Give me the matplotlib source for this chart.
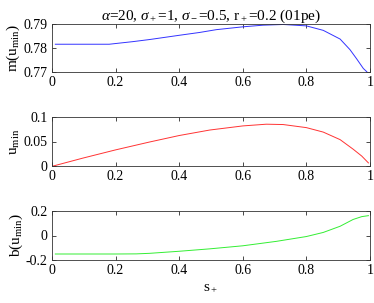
import numpy as np
import matplotlib
matplotlib.use('Agg')
import matplotlib.pyplot as plt

plt.rcParams['font.family'] = ['Liberation Serif', 'DejaVu Serif']
plt.rcParams['mathtext.fontset'] = 'custom'
plt.rcParams['mathtext.rm'] = 'Liberation Serif'
plt.rcParams['mathtext.it'] = 'Liberation Serif:italic'
plt.rcParams['font.size'] = 10

# values
s_m = [0.0105, 0.1, 0.18, 0.2, 0.254, 0.307, 0.4, 0.464, 0.517, 0.6, 0.664, 0.727,
       0.8, 0.853, 0.906, 0.937, 0.958, 0.979, 0.99]
m_u = [0.7816, 0.7816, 0.7816, 0.7819, 0.7827, 0.7836, 0.7854, 0.7866, 0.7878, 0.7890, 0.7897, 0.7900,
       0.7894, 0.7875, 0.7838, 0.7793, 0.7754, 0.7713, 0.7699]

s_u = [0.004, 0.097, 0.2, 0.307, 0.4, 0.496, 0.6, 0.674, 0.727, 0.8, 0.853, 0.906, 0.947, 0.974, 0.995]
u_min = [0.0, 0.0161, 0.0329, 0.049, 0.0622, 0.0734, 0.0818, 0.0853, 0.0846, 0.0783, 0.0692, 0.0538,
         0.0343, 0.0203, 0.0063]

s_b = [0.0105, 0.1, 0.2, 0.265, 0.307, 0.4, 0.496, 0.6, 0.706, 0.8, 0.853, 0.906, 0.947, 0.974, 0.995]
b_u = [-0.151, -0.151, -0.151, -0.150, -0.1455, -0.1287, -0.109, -0.084, -0.0476, -0.0084, 0.025, 0.0755,
       0.131, 0.154, 0.162]

fig = plt.figure(figsize=(3.74, 3.03), dpi=100)
W, H = 374, 303
L, R = 52, 370
rows = [(24, 72), (117, 166), (211, 260)]
axes = [fig.add_axes([L / W, 1 - b / H, (R - L) / W, (b - t) / H]) for t, b in rows]

ax = axes[0]
ax.plot(s_m, m_u, color='#3333ff', lw=0.7)
ax.set_ylim(0.7698, 0.7902)
ax.set_yticks([0.77, 0.78, 0.79])
ax.set_ylabel('m(u$_{\\rm min}$)', fontsize=11, labelpad=1)
ax.set_title('$\\alpha$=20, $\\sigma_+$=1, $\\sigma_-$=0.5, r$_+$=0.2 (01pe)', fontsize=11, pad=3)

ax = axes[1]
ax.plot(s_u, u_min, color='#ff3333', lw=0.7)
ax.set_ylim(0, 0.1)
ax.set_yticks([0, 0.05, 0.1])
ax.set_yticklabels(['0', '0.05', '0.1'])
ax.set_ylabel('u$_{\\rm min}$', fontsize=11, labelpad=1)

ax = axes[2]
ax.plot(s_b, b_u, color='#33ee33', lw=0.7)
ax.set_ylim(-0.2, 0.2)
ax.set_yticks([-0.2, 0, 0.2])
ax.set_yticklabels(['-0.2', '0', '0.2'])
ax.set_ylabel('b(u$_{\\rm min}$)', fontsize=11, labelpad=1)
ax.set_xlabel('s$_+$', fontsize=11, labelpad=2)

for ax in axes:
    ax.set_xlim(0, 1)
    ax.set_xticks([0, 0.2, 0.4, 0.6, 0.8, 1])
    ax.set_xticklabels(['0', '0.2', '0.4', '0.6', '0.8', '1'])
    ax.tick_params(direction='in', top=True, right=True, length=3, width=0.5, pad=3, labelsize=10)
    for sp in ax.spines.values():
        sp.set_linewidth(0.6)
        sp.set_color('#333333')

fig.savefig('out.png', dpi=100)
